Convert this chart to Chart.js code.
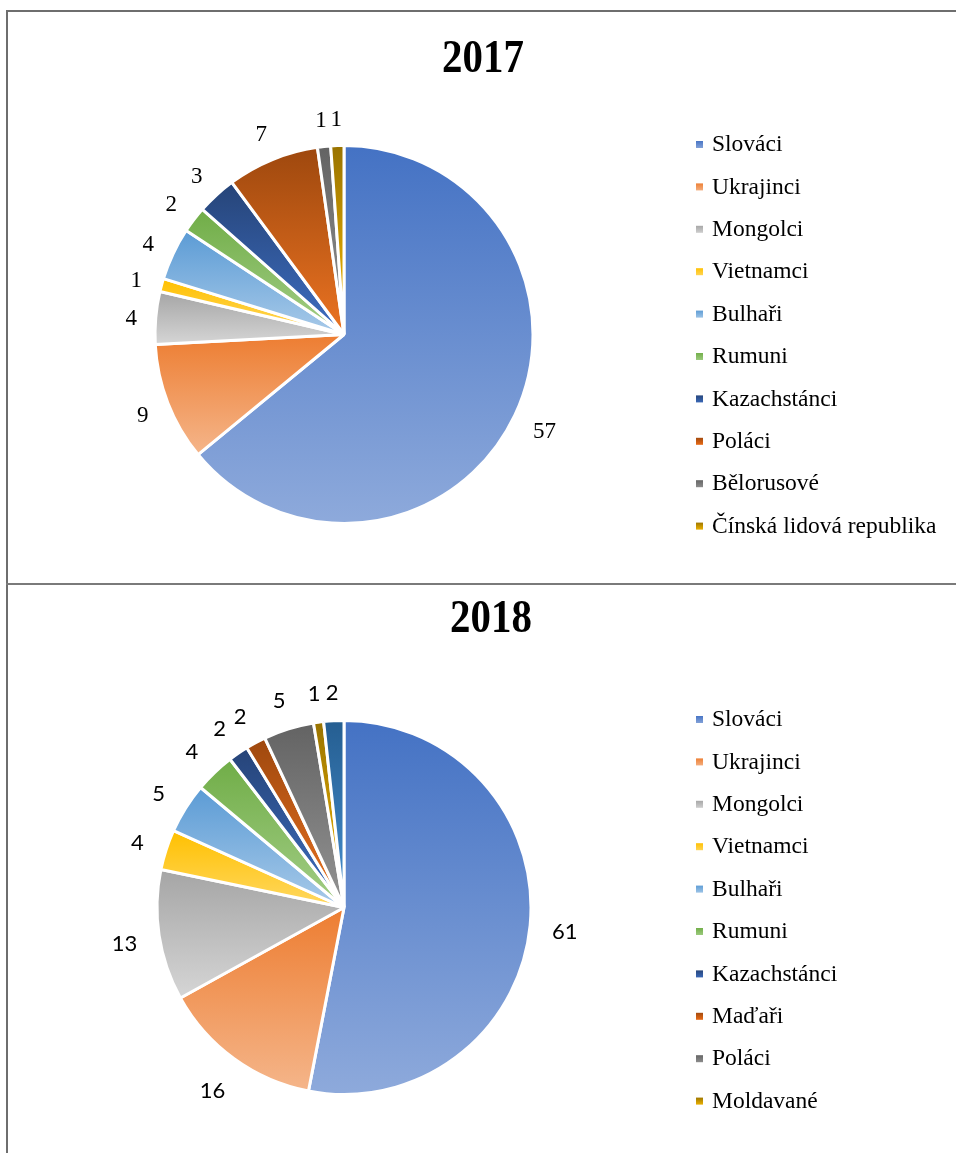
<!DOCTYPE html>
<html>
<head>
<meta charset="utf-8">
<script src="https://cdn.jsdelivr.net/npm/chart.js@4.4.1/dist/chart.umd.min.js"></script>
<style>
  body { margin: 0; background: #fff; width: 956px; height: 1153px; overflow: hidden; position: relative; }
  #frame { position: absolute; left: 6px; top: 10px; width: 1000px; height: 1200px;
           border-left: 2px solid #6e6e6e; border-top: 2px solid #6e6e6e; }
  #divider { position: absolute; left: 6px; top: 583px; width: 1000px; border-top: 2px solid #7a7a7a; }
  canvas { position: absolute; left: 0; }
  #c2017 { top: 12px; }
  #c2018 { top: 587px; }
</style>
</head>
<body>
<div id="frame"></div>
<div id="divider"></div>
<canvas id="c2017" width="956" height="570"></canvas>
<canvas id="c2018" width="956" height="566"></canvas>
<script>
// 2017
const labels2017 = ['Slováci', 'Ukrajinci', 'Mongolci', 'Vietnamci', 'Bulhaři', 'Rumuni',
    'Kazachstánci', 'Poláci', 'Bělorusové', 'Čínská lidová republika'];
const values2017 = [57, 9, 4, 1, 4, 2, 3, 7, 1, 1];
const colors2017 = ['#4472C4', '#ED7D31', '#A5A5A5', '#FFC000', '#5B9BD5', '#70AD47',
    '#264478', '#9E480E', '#636363', '#997300'];

// 2018 (the last slice has no entry in the visible legend)
const labels2018 = ['Slováci', 'Ukrajinci', 'Mongolci', 'Vietnamci', 'Bulhaři', 'Rumuni',
    'Kazachstánci', 'Maďaři', 'Poláci', 'Moldavané', 'Ostatní'];
const values2018 = [61, 16, 13, 4, 5, 4, 2, 2, 5, 1, 2];
const colors2018 = ['#4472C4', '#ED7D31', '#A5A5A5', '#FFC000', '#5B9BD5', '#70AD47',
    '#264478', '#9E480E', '#636363', '#997300', '#255E91'];
const legendCount2018 = 10;

function hexToHsl(hex) {
    const r = parseInt(hex.slice(1, 3), 16) / 255;
    const g = parseInt(hex.slice(3, 5), 16) / 255;
    const b = parseInt(hex.slice(5, 7), 16) / 255;
    const max = Math.max(r, g, b), min = Math.min(r, g, b);
    let h = 0, s = 0;
    const l = (max + min) / 2;
    if (max !== min) {
        const d = max - min;
        s = l > 0.5 ? d / (2 - max - min) : d / (max + min);
        if (max === r) h = (g - b) / d + (g < b ? 6 : 0);
        else if (max === g) h = (b - r) / d + 2;
        else h = (r - g) / d + 4;
        h *= 60;
    }
    return [h, s * 100, l * 100];
}

function lighten(hex, amount) {
    const [h, s, l] = hexToHsl(hex);
    return 'hsl(' + h.toFixed(1) + ',' + s.toFixed(1) + '%,' + Math.min(l + amount, 95).toFixed(1) + '%)';
}

// vertical gradient over each slice's own bounding box
function sliceFill(context) {
    const chart = context.chart;
    const area = chart.chartArea;
    const base = context.dataset.baseColors[context.dataIndex];
    if (!area) return base;
    const vals = context.dataset.data;
    const total = vals.reduce((a, b) => a + b, 0);
    let before = 0;
    for (let i = 0; i < context.dataIndex; i++) before += vals[i];
    const a0 = -Math.PI / 2 + before / total * 2 * Math.PI;
    const a1 = a0 + vals[context.dataIndex] / total * 2 * Math.PI;
    const cy = (area.top + area.bottom) / 2;
    const r = (Math.min(area.width, area.height) - 3) / 2;
    const ys = [cy, cy + r * Math.sin(a0), cy + r * Math.sin(a1)];
    [-Math.PI / 2, Math.PI / 2, 3 * Math.PI / 2].forEach(t => {
        if (t >= a0 && t <= a1) ys.push(cy + r * Math.sin(t));
    });
    const top = Math.min(...ys), bottom = Math.max(...ys);
    const g = chart.ctx.createLinearGradient(0, top, 0, Math.max(bottom, top + 1));
    g.addColorStop(0, base);
    g.addColorStop(1, lighten(base, 19));
    return g;
}

const outsideLabels = {
    id: 'outsideLabels',
    afterDatasetsDraw(chart, args, opts) {
        const { ctx } = chart;
        const meta = chart.getDatasetMeta(0);
        const data = chart.data.datasets[0].data;
        ctx.save();
        ctx.font = opts.font;
        ctx.fillStyle = opts.color;
        ctx.textAlign = 'center';
        ctx.textBaseline = 'middle';
        meta.data.forEach((arc, i) => {
            const { x, y, startAngle, endAngle, outerRadius } = arc.getProps(['x', 'y', 'startAngle', 'endAngle', 'outerRadius'], true);
            const mid = (startAngle + endAngle) / 2;
            const text = String(data[i]);
            const w = ctx.measureText(text).width;
            const c = Math.cos(mid), s = Math.sin(mid);
            const d = outerRadius + opts.gap + Math.abs(c) * w / 2 + Math.abs(s) * opts.half;
            ctx.fillText(text, x + c * d, y + s * d + opts.dy);
        });
        ctx.restore();
    }
};

const sideLegend = {
    id: 'sideLegend',
    afterDraw(chart, args, opts) {
        const { ctx } = chart;
        const ds = chart.data.datasets[0];
        ctx.save();
        ctx.font = opts.font;
        ctx.textBaseline = 'middle';
        for (let i = 0; i < opts.count; i++) {
            const y = opts.top + i * opts.step;
            const g = ctx.createLinearGradient(0, y - 3.5, 0, y + 3.5);
            g.addColorStop(0, ds.baseColors[i]);
            g.addColorStop(1, lighten(ds.baseColors[i], 15));
            ctx.fillStyle = g;
            ctx.fillRect(opts.x, y - 3, 7, 7);
            ctx.fillStyle = '#000';
            ctx.fillText(chart.data.labels[i], opts.x + 16, y + 1);
        }
        ctx.restore();
    }
};

const titleText = {
    id: 'titleText',
    afterDraw(chart, args, opts) {
        const { ctx } = chart;
        ctx.save();
        ctx.font = 'bold 47px "Liberation Serif", "Times New Roman", serif';
        ctx.fillStyle = '#000';
        ctx.textAlign = 'center';
        ctx.textBaseline = 'alphabetic';
        ctx.translate(opts.x, opts.y);
        ctx.scale(0.87, 1);
        ctx.fillText(opts.text, 0, 0);
        ctx.restore();
    }
};

function makePie(id, labels, values, colors, legendCount, title, labelFont, gap) {
    return new Chart(document.getElementById(id), {
        type: 'pie',
        data: {
            labels: labels,
            datasets: [{
                data: values,
                baseColors: colors,
                backgroundColor: sliceFill,
                borderColor: '#ffffff',
                borderWidth: 3
            }]
        },
        options: {
            responsive: false,
            animation: false,
            events: [],
            layout: { padding: { left: 153.5, right: 421.5, top: 132, bottom: 57 } },
            plugins: {
                legend: { display: false },
                tooltip: { enabled: false },
                outsideLabels: { font: labelFont, color: '#000', gap: gap, half: 10, dy: 3 },
                sideLegend: { font: '23.5px "Liberation Serif", "Times New Roman", serif',
                    count: legendCount, x: 696, top: 132, step: 42.4 },
                titleText: title
            }
        },
        plugins: [outsideLabels, sideLegend, titleText]
    });
}

makePie('c2017', labels2017, values2017, colors2017, labels2017.length,
    { text: '2017', x: 483, y: 60 },
    '23px "Liberation Serif", "Times New Roman", serif', 18);
makePie('c2018', labels2018, values2018, colors2018, legendCount2018,
    { text: '2018', x: 491, y: 45 },
    '22px Lato, "Open Sans", sans-serif', 21);
</script>
</body>
</html>
